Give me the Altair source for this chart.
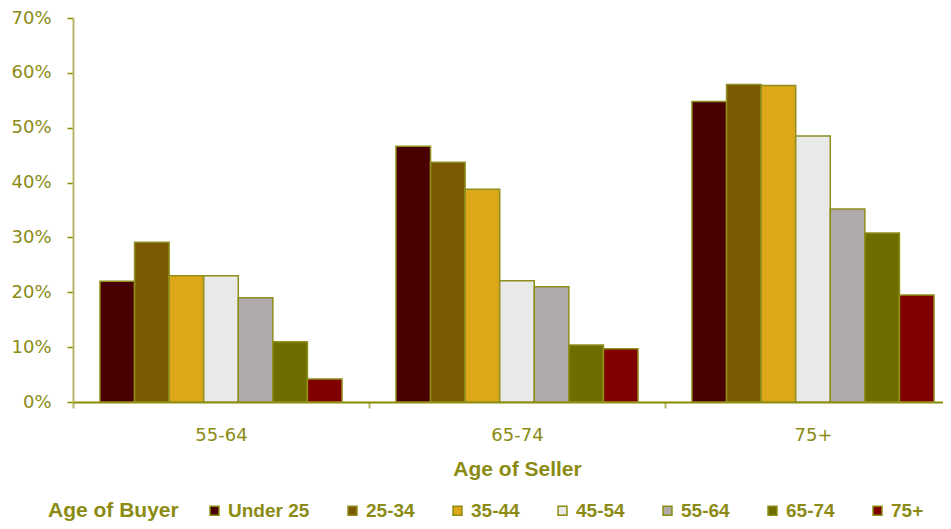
import altair as alt
import pandas as pd

sellers = ["55-64", "65-74", "75+"]
buyers = ["Under 25", "25-34", "35-44", "45-54", "55-64", "65-74", "75+"]
seller_55_64 = [22.0, 29.1, 23.0, 23.0, 19.0, 11.0, 4.2]
seller_65_74 = [46.6, 43.7, 38.8, 22.1, 21.0, 10.4, 9.7]
seller_75_plus = [54.8, 57.9, 57.7, 48.5, 35.2, 30.8, 19.5]
colors = ["#480000", "#7b5a06", "#dca81a", "#e9e9e9", "#b0aaaa", "#6e6e00", "#800000"]
y_ticks = [0, 10, 20, 30, 40, 50, 60, 70]

rows = []
for s, vals in zip(sellers, [seller_55_64, seller_65_74, seller_75_plus]):
    for b, v in zip(buyers, vals):
        rows.append({"seller": s, "buyer": b, "value": v})
df = pd.DataFrame(rows)

olive = "#8b8b14"

chart = alt.Chart(df).mark_bar(stroke="#8f8f1c", strokeWidth=1.5).encode(
    x=alt.X("seller:N", sort=sellers,
            scale=alt.Scale(range=[0, 888], paddingInner=0, paddingOuter=0),
            axis=alt.Axis(title="Age of Seller", labelAngle=0, tickBand="extent",
                          labelFont="DejaVu Sans", labelFontSize=18, labelColor=olive,
                          labelPadding=18, tickSize=6, tickColor="#b5b56a", tickWidth=2,
                          domainColor="#8c8c00", domainWidth=2,
                          titleFont="Liberation Sans", titleFontSize=21, titleFontWeight="bold",
                          titleColor=olive, titlePadding=14)),
    xOffset=alt.XOffset("buyer:N", sort=buyers,
                        scale=alt.Scale(paddingInner=0, paddingOuter=0.78)),
    y=alt.Y("value:Q", scale=alt.Scale(domain=[0, 70], nice=False),
            axis=alt.Axis(title=None, values=y_ticks, labelExpr="datum.value + '%'",
                          grid=False, labelFont="DejaVu Sans", labelFontSize=18,
                          labelColor=olive, labelPadding=16, tickSize=6,
                          tickColor="#8c8c00", tickWidth=1.5,
                          domainColor="#b5b56a", domainWidth=2)),
    color=alt.Color("buyer:N", sort=buyers,
                    scale=alt.Scale(domain=buyers, range=colors),
                    legend=alt.Legend(title="Age of Buyer", orient="none", direction="horizontal",
                                      legendX=-25, legendY=483, titleOrient="left",
                                      titleFont="Liberation Sans", titleFontSize=21,
                                      titleFontWeight="bold", titleColor=olive, titlePadding=26,
                                      labelFont="Liberation Sans", labelFontSize=19,
                                      labelFontWeight="bold", labelColor=olive,
                                      symbolType="square", symbolSize=80,
                                      symbolStrokeColor="#8c8c10", symbolStrokeWidth=1.5,
                                      labelOffset=4, columnPadding=33)),
).properties(
    width=870, height=384,
    autosize=alt.AutoSizeParams(type="none"),
    padding={"left": 65, "top": 10, "right": 0, "bottom": 119},
).configure_view(stroke=None)

chart.save("out.html", embed_options={"renderer": "svg", "actions": False})
